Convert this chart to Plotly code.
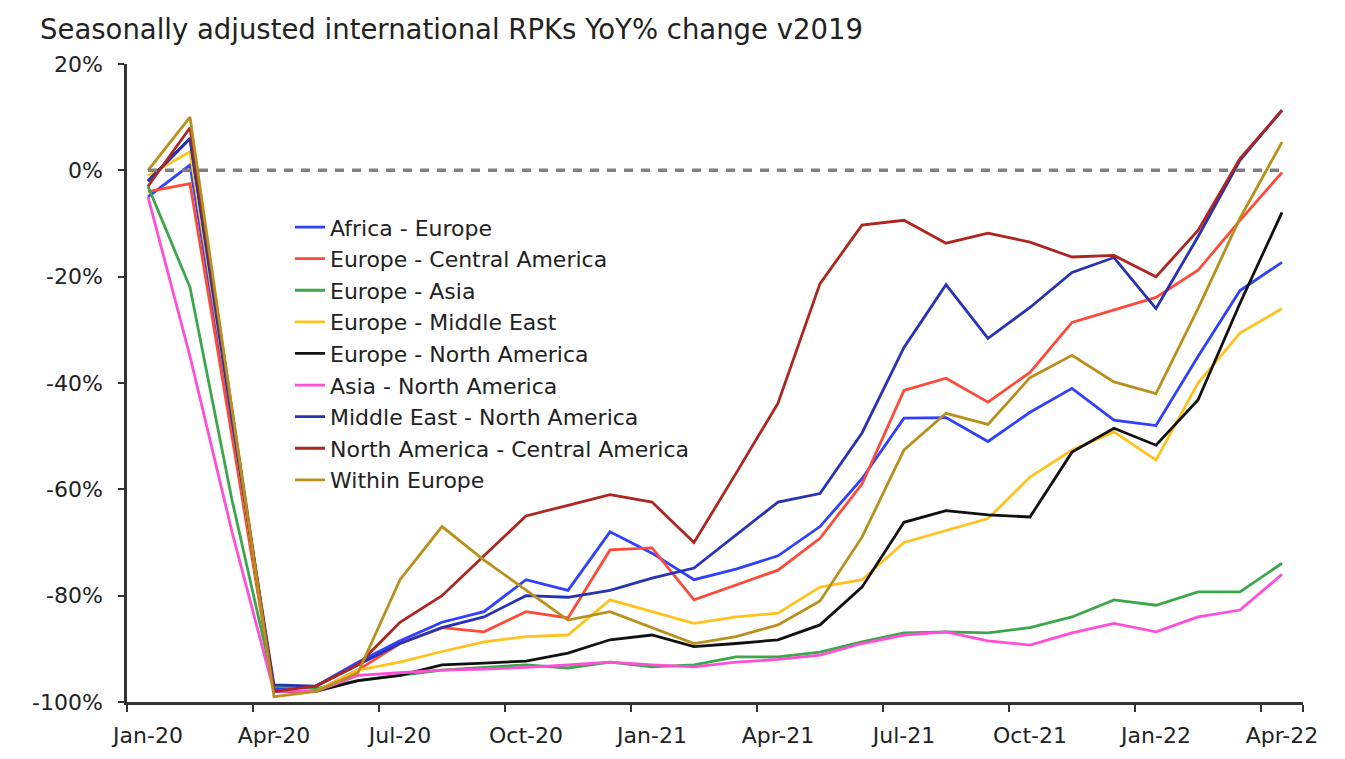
import plotly.graph_objects as go

months = ["Jan-20","Feb-20","Mar-20","Apr-20","May-20","Jun-20","Jul-20","Aug-20","Sep-20","Oct-20","Nov-20","Dec-20",
          "Jan-21","Feb-21","Mar-21","Apr-21","May-21","Jun-21","Jul-21","Aug-21","Sep-21","Oct-21","Nov-21","Dec-21",
          "Jan-22","Feb-22","Mar-22","Apr-22"]

africa_europe = [-5, 1, -48, -97.5, -97, -92.5, -88.5, -85, -83, -77, -79, -68, -72, -77, -75, -72.5, -67, -58, -46.6, -46.5, -51, -45.5, -41, -47, -48, -35, -22.6, -17.3]
europe_central_america = [-4, -2.5, -50, -98, -98, -94, -89, -86, -86.8, -83, -84.2, -71.4, -71, -80.8, -78, -75.2, -69.2, -59, -41.4, -39.1, -43.6, -38, -28.6, -26.3, -23.9, -18.8, -9.4, -0.4]
europe_asia = [-3, -22, -62, -97, -97.5, -96, -95, -94, -93.5, -93, -93.6, -92.5, -93.4, -93, -91.5, -91.5, -90.6, -88.7, -87, -86.8, -87, -86, -84, -80.8, -81.8, -79.3, -79.3, -73.9]
europe_middle_east = [-1, 3.5, -47, -98, -98, -94, -92.5, -90.5, -88.7, -87.7, -87.4, -80.8, -83, -85.2, -84, -83.3, -78.4, -77, -70, -67.7, -65.5, -57.7, -52.6, -49.2, -54.5, -40, -30.6, -26]
europe_north_america = [-2, 6, -46, -98, -98, -96, -95, -93, -92.7, -92.3, -90.8, -88.3, -87.4, -89.6, -89, -88.3, -85.5, -78.4, -66.2, -64, -64.8, -65.2, -53, -48.5, -51.7, -43.2, -25, -7.9]
asia_north_america = [-5, -35, -68, -98, -98, -95, -94.5, -94, -93.8, -93.5, -93, -92.5, -93, -93.4, -92.5, -92, -91.2, -89, -87.4, -86.8, -88.5, -89.3, -87, -85.2, -86.8, -84, -82.7, -76]
middle_east_north_america = [-2, 6, -47, -96.8, -97, -93, -89, -86, -84, -80, -80.3, -79, -76.7, -74.8, -68.6, -62.4, -60.8, -49.4, -33.3, -21.5, -31.6, -25.8, -19.2, -16.4, -26, -12.5, 1.9, 11.3]
north_america_central_america = [-3, 8, -45, -98, -97, -93, -85, -80, -72.5, -65, -63, -61, -62.4, -70, -57, -43.8, -21.3, -10.3, -9.4, -13.7, -11.8, -13.5, -16.3, -16, -20, -11.3, 2.2, 11.3]
within_europe = [0, 10, -45, -99, -98, -94.5, -77, -67, -73.3, -79, -84.6, -83, -86, -89, -87.7, -85.5, -81, -69, -52.6, -45.7, -47.8, -39, -34.8, -39.8, -42, -26, -9, 5.3]

series_names = ["Africa - Europe", "Europe - Central America", "Europe - Asia", "Europe - Middle East",
                "Europe - North America", "Asia - North America", "Middle East - North America",
                "North America - Central America", "Within Europe"]
series_values = [africa_europe, europe_central_america, europe_asia, europe_middle_east, europe_north_america,
                 asia_north_america, middle_east_north_america, north_america_central_america, within_europe]
series_colors = ["#3040ff", "#ff4a3a", "#3aa84a", "#ffc21e", "#111111", "#ff4fd6", "#2832b4", "#ae2620", "#b8901c"]

x_tick_labels = ["Jan-20","Apr-20","Jul-20","Oct-20","Jan-21","Apr-21","Jul-21","Oct-21","Jan-22","Apr-22"]
y_tick_values = [-100, -80, -60, -40, -20, 0, 20]
y_tick_labels = ["-100%", "-80%", "-60%", "-40%", "-20%", "0%", "20%"]
zero_line = [0, 0]

FONT = "DejaVu Sans"
# the page body adds an 8px offset; margins below compensate for it
fig = go.Figure()
for name, vals, col in zip(series_names, series_values, series_colors):
    fig.add_trace(go.Scatter(x=months, y=vals, mode="lines", name=name,
                             line=dict(color=col, width=2.8)))
fig.add_trace(go.Scatter(x=[months[0], months[-1]], y=zero_line, mode="lines", showlegend=False,
                         line=dict(color="#808080", width=3.5, dash="9px,8px")))

fig.update_layout(
    width=1345, height=759,
    paper_bgcolor="white", plot_bgcolor="white",
    margin=dict(l=119, r=50, t=56, b=65, autoexpand=False),
    font=dict(family=FONT, size=21, color="#222222"),
    title=dict(text="Seasonally adjusted international RPKs YoY% change v2019",
               font=dict(family=FONT, size=27.5, color="#222222"),
               xref="container", x=32/1345, xanchor="left",
               yref="container", y=1-21/759, yanchor="middle", pad=dict(l=0, r=0, t=0, b=0)),
    legend=dict(x=0.1386, y=0.777, xanchor="left", yanchor="top",
                bgcolor="rgba(0,0,0,0)", font=dict(family=FONT, size=22, color="#222222"),
                tracegroupgap=0, itemwidth=30),
    showlegend=True,
)
fig.update_xaxes(type="category", categoryorder="array", categoryarray=months,
                 range=[-0.5, 27.5], tickmode="array", tickvals=x_tick_labels, ticktext=x_tick_labels,
                 tickson="boundaries", ticks="outside", ticklen=7, tickwidth=2, tickcolor="#333333",
                 tickangle=0, automargin=False, ticklabelstandoff=12,
                 showline=True, linecolor="#333333", linewidth=2.5, showgrid=False, zeroline=False,
                 tickfont=dict(family=FONT, size=22, color="#222222"))
fig.update_yaxes(range=[-100, 20], tickmode="array", tickvals=y_tick_values, ticktext=y_tick_labels,
                 ticks="outside", ticklen=6, tickwidth=2, tickcolor="#333333", automargin=False,
                 ticklabelstandoff=11,
                 showline=True, linecolor="#333333", linewidth=2.5, showgrid=False, zeroline=False,
                 tickfont=dict(family=FONT, size=22, color="#222222"))

fig.write_html("out.html")
